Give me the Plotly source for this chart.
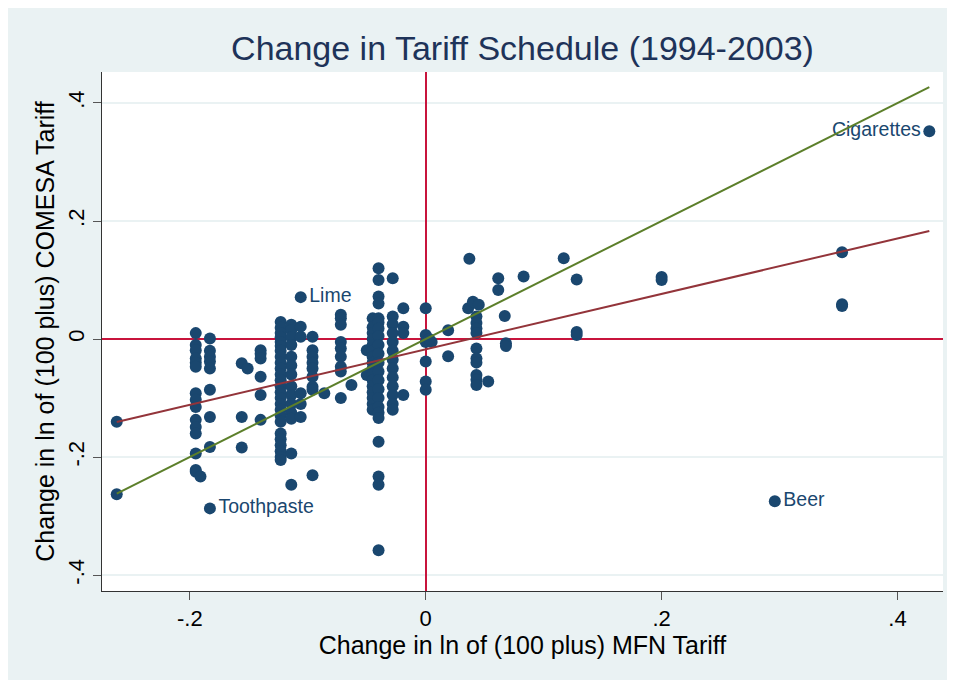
import plotly.graph_objects as go

# Columns of products sharing (roughly) the same MFN change
col_x = [-0.262, -0.195, -0.183, -0.156, -0.140, -0.123, -0.114, -0.106, -0.096,
         -0.072, -0.050, -0.045, -0.040, -0.028, -0.019, 0.0, 0.043]
col_y = [
    [-0.140, -0.263],
    [0.010, -0.010, -0.019, -0.033, -0.040, -0.047, -0.092, -0.103, -0.115,
     -0.137, -0.149, -0.160, -0.194, -0.222, -0.225],
    [0.001, -0.020, -0.030, -0.038, -0.050, -0.086, -0.132, -0.183],
    [-0.041, -0.132, -0.184],
    [-0.019, -0.025, -0.033, -0.064, -0.095, -0.137],
    [0.029, 0.019, 0.010, 0.003, -0.005, -0.012, -0.020, -0.030, -0.040, -0.050,
     -0.060, -0.070, -0.080, -0.090, -0.100, -0.110, -0.120, -0.130, -0.140,
     -0.160, -0.170, -0.180, -0.190, -0.200, -0.205],
    [0.024, 0.015, 0.003, -0.010, -0.030, -0.045, -0.060, -0.080, -0.095,
     -0.110, -0.125, -0.135, -0.194, -0.247],
    [0.021, 0.004, -0.092, -0.110, -0.132],
    [0.004, -0.019, -0.030, -0.040, -0.050, -0.064, -0.081, -0.086, -0.231],
    [0.041, 0.035, 0.024, -0.005, -0.016, -0.030, -0.047, -0.055, -0.100],
    [-0.019, -0.061],
    [0.035, 0.020, 0.010, 0.000, -0.010, -0.020, -0.030, -0.040, -0.050, -0.060,
     -0.070, -0.080, -0.090, -0.100, -0.110, -0.120],
    [0.120, 0.100, 0.072, 0.060, 0.035, 0.028, 0.018, 0.005, -0.010, -0.025,
     -0.040, -0.055, -0.070, -0.085, -0.100, -0.115, -0.125, -0.134, -0.174,
     -0.233, -0.247, -0.358],
    [0.103, 0.038, 0.025, 0.010, -0.005, -0.020, -0.035, -0.050, -0.065, -0.080,
     -0.095, -0.110, -0.120],
    [0.052, 0.021, 0.010, -0.095],
    [0.052, 0.007, -0.005, -0.038, -0.072, -0.086],
    [0.038, 0.027, 0.018, 0.010, -0.016, -0.033, -0.040, -0.061, -0.069, -0.078],
]

# scattered single points
extra_x = [-0.191, -0.151, -0.086, -0.063, 0.005, 0.003, 0.019, 0.019, 0.037,
           0.036, 0.040, 0.045, 0.053, 0.0615, 0.0615, 0.067, 0.068, 0.068,
           0.083, 0.117, 0.128, 0.128, 0.128, 0.200, 0.200, 0.353, 0.353, 0.353]
extra_y = [-0.233, -0.050, -0.092, -0.078, -0.005, 0.000, 0.015, -0.029, 0.136,
           0.052, 0.063, 0.058, -0.072, 0.103, 0.083, 0.039, -0.007, -0.012,
           0.106, 0.137, 0.101, 0.012, 0.007, 0.105, 0.100, 0.147, 0.059, 0.056]

# labelled products
label_names = ["Cigarettes", "Beer", "Toothpaste", "Lime"]
label_x = [0.427, 0.296, -0.183, -0.106]
label_y = [0.352, -0.275, -0.287, 0.071]
label_pos = ["middle left", "middle right", "middle right", "middle right"]

# fitted line (OLS) and 45-degree line
fit_slope = 0.470
fit_intercept = -0.0176

x_ticks = [-0.2, 0, 0.2, 0.4]
x_ticktext = ["-.2", "0", ".2", ".4"]
y_ticks = [-0.4, -0.2, 0, 0.2, 0.4]
y_ticktext = ["-.4", "-.2", "0", ".2", ".4"]

navy = "#1A476F"
red = "#C8143C"
font = "Liberation Sans, Arial, sans-serif"

xs, ys = [], []
for cx, cy in zip(col_x, col_y):
    xs += [cx] * len(cy)
    ys += cy
xs += extra_x
ys += extra_y

x_lo = min(xs + label_x)
x_hi = max(xs + label_x)

fig = go.Figure()

fig.add_trace(go.Scatter(
    x=xs, y=ys, mode="markers",
    marker=dict(size=12, color=navy),
    hoverinfo="x+y"
))

fig.add_trace(go.Scatter(
    x=label_x, y=label_y, mode="markers+text",
    text=label_names, textposition=label_pos,
    textfont=dict(family=font, size=19.5, color=navy),
    marker=dict(size=12, color=navy),
))

fig.add_trace(go.Scatter(
    x=[x_lo, x_hi], y=[fit_intercept + fit_slope * x_lo, fit_intercept + fit_slope * x_hi],
    mode="lines", line=dict(color="#93343A", width=2)
))
fig.add_trace(go.Scatter(
    x=[x_lo, x_hi], y=[x_lo, x_hi],
    mode="lines", line=dict(color="#5C7F2A", width=2)
))

fig.update_layout(
    width=947, height=672,
    margin=dict(l=94, r=12, t=64, b=89),
    paper_bgcolor="#EAF2F3",
    plot_bgcolor="white",
    showlegend=False,
    font=dict(family=font, color="black"),
    title=dict(text="Change in Tariff Schedule (1994-2003)", x=0.5, xref="paper",
               y=1 - 40 / 672, yanchor="middle",
               font=dict(family=font, size=34, color="#1E3359")),
    xaxis=dict(range=[-0.2745, 0.4386], tickvals=x_ticks, ticktext=x_ticktext,
               showgrid=False, zeroline=True, zerolinecolor=red, zerolinewidth=2,
               showline=True, linecolor="#333", linewidth=1,
               ticks="outside", ticklen=8, tickcolor="#555",
               tickfont=dict(size=22), automargin=False,
               title=dict(text="Change in ln of (100 plus) MFN Tariff", font=dict(size=25), standoff=3)),
    yaxis=dict(range=[-0.427, 0.4525], tickvals=y_ticks, ticktext=y_ticktext, tickangle=-90,
               showgrid=True, gridcolor="#EAF2F3", gridwidth=2,
               zeroline=True, zerolinecolor=red, zerolinewidth=2,
               showline=True, linecolor="#333", linewidth=1,
               ticks="outside", ticklen=8, tickcolor="#555",
               tickfont=dict(size=22), automargin=False,
               title=dict(text="Change in ln of (100 plus) COMESA Tariff", font=dict(size=25), standoff=2)),
)

fig.write_html("out.html")
